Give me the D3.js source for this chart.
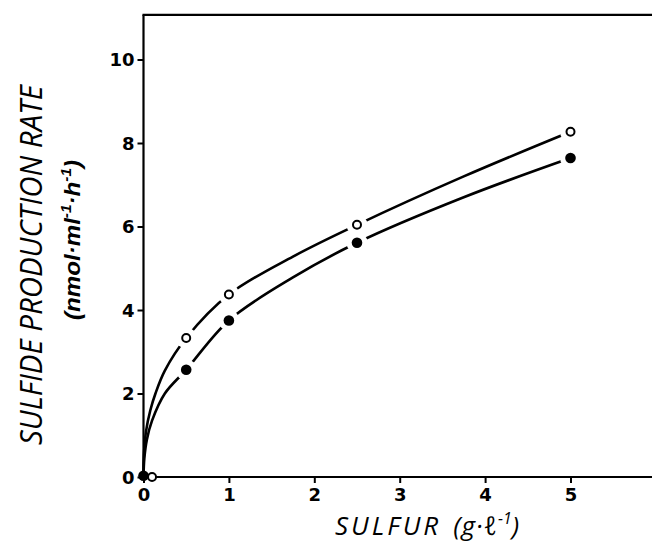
<!DOCTYPE html>
<html><head><meta charset="utf-8">
<script src="https://cdn.jsdelivr.net/npm/d3@7"></script>
<style>html,body{margin:0;padding:0;background:#fff}</style>
</head><body>
<svg id="c" width="652" height="546"></svg>
<script>
// Measured points
const sulfur = [0.5, 1, 2.5, 5];
const openVals = [3.33, 4.37, 6.04, 8.27];
const filledVals = [2.57, 3.75, 5.61, 7.64];
// points at origin
const originOpen = [{x: 0.1, y: 0}];
const originFilled = [{x: 0, y: 0.03}];
// Fitted curves
const openCurveX = [0, 0.005, 0.03, 0.08, 0.14, 0.25, 0.5, 1, 1.75, 2.5, 3.75, 5];
const openCurveY = [0, 0.55, 1.1, 1.6, 2.0, 2.55, 3.33, 4.37, 5.28, 6.04, 7.2, 8.27];
const filledCurveX = [0, 0.01, 0.04, 0.1, 0.25, 0.5, 1, 1.75, 2.5, 3.75, 5];
const filledCurveY = [0, 0.45, 0.9, 1.35, 2.0, 2.57, 3.75, 4.78, 5.61, 6.7, 7.64];
const xTicks = [0, 1, 2, 3, 4, 5];
const yTicks = [0, 2, 4, 6, 8, 10];

const svg = d3.select("#c");
const x = d3.scaleLinear().domain([0, 5]).range([143.5, 570.5]);
const y = d3.scaleLinear().domain([0, 10]).range([477, 59.5]);
const xEnd = 652, yTop = y(11.07);

const line = d3.line().x(d => x(d[0])).y(d => y(d[1])).curve(d3.curveCatmullRom.alpha(0.5));
const openCurve = openCurveX.map((v, i) => [v, openCurveY[i]]);
const filledCurve = filledCurveX.map((v, i) => [v, filledCurveY[i]]);

svg.append("path").attr("d", line(openCurve)).attr("fill", "none").attr("stroke", "#000").attr("stroke-width", 2.6);
svg.append("path").attr("d", line(filledCurve)).attr("fill", "none").attr("stroke", "#000").attr("stroke-width", 2.6);

const openPts = sulfur.map((s, i) => ({x: s, y: openVals[i]}));
const filledPts = sulfur.map((s, i) => ({x: s, y: filledVals[i]}));

// white halos creating gaps in lines around markers
svg.selectAll(".halo").data(openPts.concat(filledPts)).enter().append("circle")
  .attr("cx", d => x(d.x)).attr("cy", d => y(d.y)).attr("r", 10.5).attr("fill", "#fff");

// axes
const gx = svg.append("g").attr("transform", `translate(0,${y(0)})`)
  .call(d3.axisBottom(x).tickValues(xTicks).tickSize(6).tickPadding(4).tickFormat(d3.format("d")));
gx.select(".domain").remove();
const gy = svg.append("g").attr("transform", `translate(${x(0)},0)`)
  .call(d3.axisLeft(y).tickValues(yTicks).tickSize(6).tickPadding(3).tickFormat(d3.format("d")));
gy.select(".domain").remove();
[gx, gy].forEach(g => {
  g.selectAll("line").attr("stroke", "#000").attr("stroke-width", 2);
  g.selectAll("text").attr("font-family", "DejaVu Sans, Arial, sans-serif")
    .attr("font-weight", "bold").attr("font-size", 18).attr("fill", "#000");
});
gy.selectAll("text").attr("dy", "0.36em");
gx.selectAll("text").attr("dy", "0.8em");

// frame lines
svg.append("line").attr("x1", x(0)).attr("x2", xEnd).attr("y1", y(0)).attr("y2", y(0)).attr("stroke", "#000").attr("stroke-width", 2.2);
svg.append("line").attr("x1", x(0)).attr("x2", x(0)).attr("y1", y(0)).attr("y2", yTop).attr("stroke", "#000").attr("stroke-width", 2.2);
svg.append("line").attr("x1", x(0) - 1).attr("x2", xEnd).attr("y1", yTop).attr("y2", yTop).attr("stroke", "#000").attr("stroke-width", 2.2);

// markers
svg.selectAll(".filled").data(filledPts.concat(originFilled)).enter().append("circle")
  .attr("cx", d => x(d.x)).attr("cy", d => y(d.y)).attr("r", 5.3).attr("fill", "#000");
svg.selectAll(".open").data(openPts.concat(originOpen)).enter().append("circle")
  .attr("cx", d => x(d.x)).attr("cy", d => y(d.y)).attr("r", 4).attr("fill", "#fff")
  .attr("stroke", "#000").attr("stroke-width", 2);

// axis titles
const tFont = "'Open Sans', 'Liberation Sans', Arial, sans-serif";
const xt = svg.append("text").attr("x", 335).attr("y", 535)
  .attr("font-family", tFont).attr("font-style", "italic").attr("font-weight", 400)
  .attr("font-size", 26).attr("fill", "#000");
xt.append("tspan").attr("letter-spacing", 3).text("SULFUR");
xt.append("tspan").attr("dx", 12).attr("letter-spacing", 1).text("(g·ℓ");
xt.append("tspan").attr("font-size", 16).attr("dy", -11).text("-1");
xt.append("tspan").attr("dy", 11).text(")");

svg.append("text").attr("transform", "translate(42,445) rotate(-90)")
  .attr("font-family", tFont).attr("font-style", "italic").attr("font-weight", 400)
  .attr("font-size", 31).attr("textLength", 360).attr("lengthAdjust", "spacingAndGlyphs")
  .attr("fill", "#000")
  .text("SULFIDE  PRODUCTION  RATE");

const yu = svg.append("text").attr("transform", "translate(80,320) rotate(-90)")
  .attr("font-family", "'Liberation Sans', Arial, sans-serif").attr("font-style", "italic")
  .attr("font-weight", "bold").attr("font-size", 22)
  .attr("textLength", 160).attr("lengthAdjust", "spacingAndGlyphs").attr("fill", "#000");
yu.append("tspan").text("(nmol·ml");
yu.append("tspan").attr("font-size", 14).attr("dy", -9).text("-1");
yu.append("tspan").attr("dy", 9).text("·h");
yu.append("tspan").attr("font-size", 14).attr("dy", -9).text("-1");
yu.append("tspan").attr("dy", 9).text(")");
</script>
</body></html>
